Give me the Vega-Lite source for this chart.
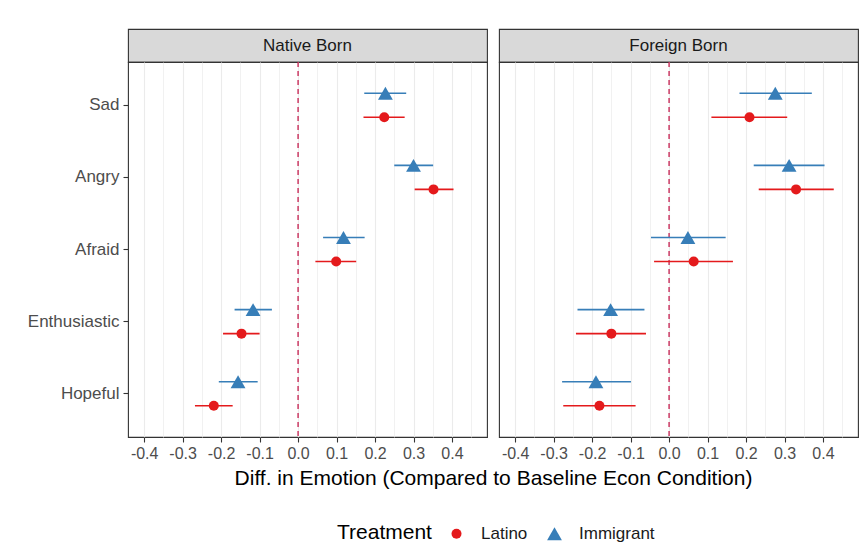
{
  "$schema": "https://vega.github.io/schema/vega-lite/v6.json",
  "padding": {"left": 26, "top": 28, "right": 5, "bottom": 5},
  "background": "white",
  "data": {"values": [
    {"panel": "Native Born", "emotion": "Sad", "treatment": "Immigrant", "est": 0.227, "lo": 0.172, "hi": 0.281},
    {"panel": "Native Born", "emotion": "Sad", "treatment": "Latino", "est": 0.224, "lo": 0.170, "hi": 0.277},
    {"panel": "Native Born", "emotion": "Angry", "treatment": "Immigrant", "est": 0.300, "lo": 0.250, "hi": 0.351},
    {"panel": "Native Born", "emotion": "Angry", "treatment": "Latino", "est": 0.352, "lo": 0.303, "hi": 0.404},
    {"panel": "Native Born", "emotion": "Afraid", "treatment": "Immigrant", "est": 0.118, "lo": 0.065, "hi": 0.173},
    {"panel": "Native Born", "emotion": "Afraid", "treatment": "Latino", "est": 0.099, "lo": 0.045, "hi": 0.151},
    {"panel": "Native Born", "emotion": "Enthusiastic", "treatment": "Immigrant", "est": -0.117, "lo": -0.165, "hi": -0.068},
    {"panel": "Native Born", "emotion": "Enthusiastic", "treatment": "Latino", "est": -0.147, "lo": -0.195, "hi": -0.100},
    {"panel": "Native Born", "emotion": "Hopeful", "treatment": "Immigrant", "est": -0.156, "lo": -0.206, "hi": -0.105},
    {"panel": "Native Born", "emotion": "Hopeful", "treatment": "Latino", "est": -0.219, "lo": -0.268, "hi": -0.170},
    {"panel": "Foreign Born", "emotion": "Sad", "treatment": "Immigrant", "est": 0.276, "lo": 0.183, "hi": 0.371},
    {"panel": "Foreign Born", "emotion": "Sad", "treatment": "Latino", "est": 0.209, "lo": 0.110, "hi": 0.307},
    {"panel": "Foreign Born", "emotion": "Angry", "treatment": "Immigrant", "est": 0.312, "lo": 0.220, "hi": 0.404},
    {"panel": "Foreign Born", "emotion": "Angry", "treatment": "Latino", "est": 0.330, "lo": 0.233, "hi": 0.428},
    {"panel": "Foreign Born", "emotion": "Afraid", "treatment": "Immigrant", "est": 0.049, "lo": -0.047, "hi": 0.147},
    {"panel": "Foreign Born", "emotion": "Afraid", "treatment": "Latino", "est": 0.064, "lo": -0.039, "hi": 0.166},
    {"panel": "Foreign Born", "emotion": "Enthusiastic", "treatment": "Immigrant", "est": -0.152, "lo": -0.238, "hi": -0.064},
    {"panel": "Foreign Born", "emotion": "Enthusiastic", "treatment": "Latino", "est": -0.150, "lo": -0.242, "hi": -0.060},
    {"panel": "Foreign Born", "emotion": "Hopeful", "treatment": "Immigrant", "est": -0.190, "lo": -0.278, "hi": -0.099},
    {"panel": "Foreign Born", "emotion": "Hopeful", "treatment": "Latino", "est": -0.181, "lo": -0.275, "hi": -0.087}
  ]},
  "config": {
    "font": "Liberation Sans",
    "view": {"stroke": "#333333", "strokeWidth": 1.1},
    "axis": {"domain": false, "tickColor": "#333333", "tickSize": 5, "tickWidth": 1.1, "labelColor": "#4D4D4D", "labelFontSize": 16, "gridColor": "#EBEBEB", "gridWidth": 1.1, "titleColor": "#000000", "titleFontWeight": "normal", "titleFontSize": 21},
    "legend": {"titleFontSize": 21, "titleFontWeight": "normal", "titleColor": "#000000", "labelFontSize": 17, "labelColor": "#1A1A1A", "labelOffset": 16, "columnPadding": 18, "titlePadding": 16, "symbolSize": 110, "symbolStrokeWidth": 0}
  },
  "columns": 2,
  "spacing": {"row": 0, "column": 12},
  "bounds": "flush",
  "resolve": {"scale": {"color": "shared", "shape": "shared", "size": "shared"}, "legend": {"color": "shared", "shape": "shared"}},
  "concat": [
    {
      "width": 359, "height": 33,
      "data": {"values": [{"panel": "Native Born"}]},
      "view": {"fill": "#D9D9D9", "stroke": "#333333", "strokeWidth": 1.1},
      "mark": {"type": "text", "fontSize": 17, "color": "#1A1A1A", "baseline": "middle", "align": "center"},
      "encoding": {"text": {"field": "panel"}}
    },
    {
      "width": 359, "height": 33,
      "data": {"values": [{"panel": "Foreign Born"}]},
      "view": {"fill": "#D9D9D9", "stroke": "#333333", "strokeWidth": 1.1},
      "mark": {"type": "text", "fontSize": 17, "color": "#1A1A1A", "baseline": "middle", "align": "center"},
      "encoding": {"text": {"field": "panel"}}
    },
    {
      "width": 359, "height": 375,
      "layer": [
        {
          "data": {"values": [{"ref": 0}]},
          "mark": {"type": "rule", "color": "#C41E4E", "strokeDash": [5, 4], "strokeWidth": 1.3},
          "encoding": {"x": {"field": "ref", "type": "quantitative",
            "scale": {"domain": [-0.442, 0.491], "nice": false, "zero": false},
            "axis": {
              "values": [-0.4, -0.35, -0.3, -0.25, -0.2, -0.15, -0.1, -0.05, 0, 0.05, 0.1, 0.15, 0.2, 0.25, 0.3, 0.35, 0.4, 0.45],
              "labelExpr": "abs(round(datum.value*20)) % 2 == 1 ? '' : replace(format(datum.value, '.1f'), '\u2212', '-')",
              "tickOpacity": {"condition": {"test": "abs(round(datum.value*20)) % 2 == 1", "value": 0}, "value": 1},
              "gridWidth": {"condition": {"test": "abs(round(datum.value*20)) % 2 == 1", "value": 0.7}, "value": 1.1},
              "labelPadding": 3, "labelFlush": false, "labelOverlap": false,
              "title": "Diff. in Emotion (Compared to Baseline Econ Condition)",
              "titleX": 365, "titleAlign": "center", "titlePadding": 6
            }}}
        },
        {
          "transform": [{"filter": "datum.panel === 'Native Born'"}],
          "mark": {"type": "rule", "strokeWidth": 1.6},
          "encoding": {
            "x": {"field": "lo", "type": "quantitative",
              "axis": {
                "values": [-0.4, -0.35, -0.3, -0.25, -0.2, -0.15, -0.1, -0.05, 0, 0.05, 0.1, 0.15, 0.2, 0.25, 0.3, 0.35, 0.4, 0.45],
                "labelExpr": "abs(round(datum.value*20)) % 2 == 1 ? '' : replace(format(datum.value, '.1f'), '\u2212', '-')",
                "tickOpacity": {"condition": {"test": "abs(round(datum.value*20)) % 2 == 1", "value": 0}, "value": 1},
                "gridWidth": {"condition": {"test": "abs(round(datum.value*20)) % 2 == 1", "value": 0.7}, "value": 1.1},
                "labelPadding": 3, "labelFlush": false, "labelOverlap": false,
                "title": "Diff. in Emotion (Compared to Baseline Econ Condition)",
                "titleX": 365, "titleAlign": "center", "titlePadding": 6
              }},
            "x2": {"field": "hi"},
            "y": {"field": "emotion", "type": "nominal", "sort": ["Sad", "Angry", "Afraid", "Enthusiastic", "Hopeful"], "scale": {"type": "band", "paddingInner": 0, "paddingOuter": 0.1},
              "axis": {"title": null, "labelFontSize": 17, "labelPadding": 4, "bandPosition": 0.5}},
            "yOffset": {"field": "treatment", "type": "nominal", "sort": ["Immigrant", "Latino"], "scale": {"type": "point", "padding": 1.4}},
            "color": {"field": "treatment", "type": "nominal", "scale": {"domain": ["Latino", "Immigrant"], "range": ["#E41A1C", "#377EB8"]},
              "legend": {"title": "Treatment", "orient": "none", "legendX": 209, "legendY": 496, "direction": "horizontal", "titleOrient": "left"}}
          }
        },
        {
          "transform": [{"filter": "datum.panel === 'Native Born'"}],
          "mark": {"type": "point", "filled": true, "opacity": 1},
          "encoding": {
            "x": {"field": "est", "type": "quantitative",
              "axis": {
                "values": [-0.4, -0.35, -0.3, -0.25, -0.2, -0.15, -0.1, -0.05, 0, 0.05, 0.1, 0.15, 0.2, 0.25, 0.3, 0.35, 0.4, 0.45],
                "labelExpr": "abs(round(datum.value*20)) % 2 == 1 ? '' : replace(format(datum.value, '.1f'), '\u2212', '-')",
                "tickOpacity": {"condition": {"test": "abs(round(datum.value*20)) % 2 == 1", "value": 0}, "value": 1},
                "gridWidth": {"condition": {"test": "abs(round(datum.value*20)) % 2 == 1", "value": 0.7}, "value": 1.1},
                "labelPadding": 3, "labelFlush": false, "labelOverlap": false,
                "title": "Diff. in Emotion (Compared to Baseline Econ Condition)",
                "titleX": 365, "titleAlign": "center", "titlePadding": 6
              }},
            "y": {"field": "emotion", "type": "nominal", "sort": ["Sad", "Angry", "Afraid", "Enthusiastic", "Hopeful"],
              "axis": {"title": null, "labelFontSize": 17, "labelPadding": 4, "bandPosition": 0.5}},
            "yOffset": {"field": "treatment", "type": "nominal", "sort": ["Immigrant", "Latino"]},
            "color": {"field": "treatment", "type": "nominal", "scale": {"domain": ["Latino", "Immigrant"], "range": ["#E41A1C", "#377EB8"]},
              "legend": {"title": "Treatment", "orient": "none", "legendX": 209, "legendY": 496, "direction": "horizontal", "titleOrient": "left"}},
            "shape": {"field": "treatment", "type": "nominal", "scale": {"domain": ["Latino", "Immigrant"], "range": ["circle", "triangle-up"]},
              "legend": {"title": "Treatment", "orient": "none", "legendX": 209, "legendY": 496, "direction": "horizontal", "titleOrient": "left"}},
            "size": {"field": "treatment", "type": "nominal", "scale": {"domain": ["Latino", "Immigrant"], "range": [100, 220]}, "legend": null}
          }
        }
      ]
    },
    {
      "width": 359, "height": 375,
      "layer": [
        {
          "data": {"values": [{"ref": 0}]},
          "mark": {"type": "rule", "color": "#C41E4E", "strokeDash": [5, 4], "strokeWidth": 1.3},
          "encoding": {"x": {"field": "ref", "type": "quantitative",
            "scale": {"domain": [-0.442, 0.491], "nice": false, "zero": false},
            "axis": {
              "values": [-0.4, -0.35, -0.3, -0.25, -0.2, -0.15, -0.1, -0.05, 0, 0.05, 0.1, 0.15, 0.2, 0.25, 0.3, 0.35, 0.4, 0.45],
              "labelExpr": "abs(round(datum.value*20)) % 2 == 1 ? '' : replace(format(datum.value, '.1f'), '\u2212', '-')",
              "tickOpacity": {"condition": {"test": "abs(round(datum.value*20)) % 2 == 1", "value": 0}, "value": 1},
              "gridWidth": {"condition": {"test": "abs(round(datum.value*20)) % 2 == 1", "value": 0.7}, "value": 1.1},
              "labelPadding": 3, "labelFlush": false, "labelOverlap": false,
              "title": null
            }}}
        },
        {
          "transform": [{"filter": "datum.panel === 'Foreign Born'"}],
          "mark": {"type": "rule", "strokeWidth": 1.6},
          "encoding": {
            "x": {"field": "lo", "type": "quantitative",
              "axis": {
                "values": [-0.4, -0.35, -0.3, -0.25, -0.2, -0.15, -0.1, -0.05, 0, 0.05, 0.1, 0.15, 0.2, 0.25, 0.3, 0.35, 0.4, 0.45],
                "labelExpr": "abs(round(datum.value*20)) % 2 == 1 ? '' : replace(format(datum.value, '.1f'), '\u2212', '-')",
                "tickOpacity": {"condition": {"test": "abs(round(datum.value*20)) % 2 == 1", "value": 0}, "value": 1},
                "gridWidth": {"condition": {"test": "abs(round(datum.value*20)) % 2 == 1", "value": 0.7}, "value": 1.1},
                "labelPadding": 3, "labelFlush": false, "labelOverlap": false,
                "title": null
              }},
            "x2": {"field": "hi"},
            "y": {"field": "emotion", "type": "nominal", "sort": ["Sad", "Angry", "Afraid", "Enthusiastic", "Hopeful"], "scale": {"type": "band", "paddingInner": 0, "paddingOuter": 0.1},
              "axis": {"title": null, "labels": false, "ticks": false, "bandPosition": 0.5}},
            "yOffset": {"field": "treatment", "type": "nominal", "sort": ["Immigrant", "Latino"], "scale": {"type": "point", "padding": 1.4}},
            "color": {"field": "treatment", "type": "nominal", "scale": {"domain": ["Latino", "Immigrant"], "range": ["#E41A1C", "#377EB8"]},
              "legend": {"title": "Treatment", "orient": "none", "legendX": 209, "legendY": 496, "direction": "horizontal", "titleOrient": "left"}}
          }
        },
        {
          "transform": [{"filter": "datum.panel === 'Foreign Born'"}],
          "mark": {"type": "point", "filled": true, "opacity": 1},
          "encoding": {
            "x": {"field": "est", "type": "quantitative",
              "axis": {
                "values": [-0.4, -0.35, -0.3, -0.25, -0.2, -0.15, -0.1, -0.05, 0, 0.05, 0.1, 0.15, 0.2, 0.25, 0.3, 0.35, 0.4, 0.45],
                "labelExpr": "abs(round(datum.value*20)) % 2 == 1 ? '' : replace(format(datum.value, '.1f'), '\u2212', '-')",
                "tickOpacity": {"condition": {"test": "abs(round(datum.value*20)) % 2 == 1", "value": 0}, "value": 1},
                "gridWidth": {"condition": {"test": "abs(round(datum.value*20)) % 2 == 1", "value": 0.7}, "value": 1.1},
                "labelPadding": 3, "labelFlush": false, "labelOverlap": false,
                "title": null
              }},
            "y": {"field": "emotion", "type": "nominal", "sort": ["Sad", "Angry", "Afraid", "Enthusiastic", "Hopeful"],
              "axis": {"title": null, "labels": false, "ticks": false, "bandPosition": 0.5}},
            "yOffset": {"field": "treatment", "type": "nominal", "sort": ["Immigrant", "Latino"]},
            "color": {"field": "treatment", "type": "nominal", "scale": {"domain": ["Latino", "Immigrant"], "range": ["#E41A1C", "#377EB8"]},
              "legend": {"title": "Treatment", "orient": "none", "legendX": 209, "legendY": 496, "direction": "horizontal", "titleOrient": "left"}},
            "shape": {"field": "treatment", "type": "nominal", "scale": {"domain": ["Latino", "Immigrant"], "range": ["circle", "triangle-up"]},
              "legend": {"title": "Treatment", "orient": "none", "legendX": 209, "legendY": 496, "direction": "horizontal", "titleOrient": "left"}},
            "size": {"field": "treatment", "type": "nominal", "scale": {"domain": ["Latino", "Immigrant"], "range": [100, 220]}, "legend": null}
          }
        }
      ]
    }
  ]
}
